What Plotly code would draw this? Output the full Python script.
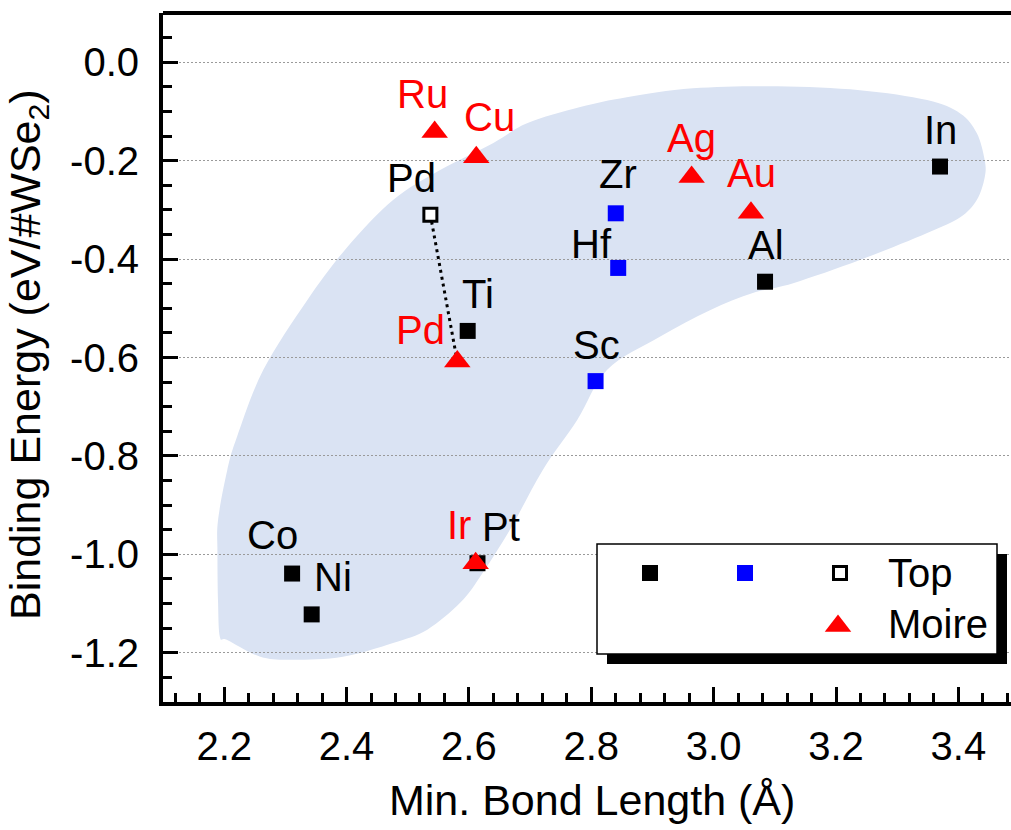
import plotly.graph_objects as go

# ---------------- data ----------------
black_names = ["In", "Al", "Ti", "Co", "Ni", "Pt"]
black_x = [3.370, 3.084, 2.598, 2.311, 2.343, 2.614]
black_y = [-0.212, -0.446, -0.546, -1.039, -1.122, -1.018]

blue_names = ["Zr", "Hf", "Sc"]
blue_x = [2.840, 2.844, 2.807]
blue_y = [-0.307, -0.418, -0.648]

top_names = ["Pd"]
top_x = [2.537]
top_y = [-0.310]

moire_names = ["Ru", "Cu", "Ag", "Au", "Pd", "Ir"]
moire_x = [2.544, 2.612, 2.964, 3.061, 2.581, 2.611]
moire_y = [-0.142, -0.193, -0.233, -0.306, -0.608, -1.018]

x_tick_vals = [2.2, 2.4, 2.6, 2.8, 3.0, 3.2, 3.4]
x_tick_text = ["2.2", "2.4", "2.6", "2.8", "3.0", "3.2", "3.4"]
y_tick_vals = [0.0, -0.2, -0.4, -0.6, -0.8, -1.0, -1.2]
y_tick_text = ["0.0", "-0.2", "-0.4", "-0.6", "-0.8", "-1.0", "-1.2"]

# outline of the shaded guide region (data coordinates)
region_x = [2.193, 2.190, 2.189, 2.190, 2.205, 2.221, 2.264, 2.336, 2.401, 2.476,
            2.553, 2.640, 2.695, 2.782, 2.858, 2.966, 3.104, 3.239, 3.349, 3.403,
            3.430, 3.443, 3.443, 3.430, 3.403, 3.349, 3.239, 3.130, 3.064, 2.994,
            2.912, 2.826, 2.777, 2.721, 2.667, 2.618, 2.586, 2.532, 2.476, 2.394,
            2.313, 2.259, 2.205]
region_y = [-1.168, -1.098, -0.997, -0.930, -0.829, -0.761, -0.625, -0.483, -0.376, -0.280,
            -0.219, -0.164, -0.124, -0.091, -0.071, -0.053, -0.049, -0.057, -0.077, -0.104,
            -0.144, -0.199, -0.234, -0.280, -0.315, -0.347, -0.402, -0.449, -0.469, -0.504,
            -0.558, -0.625, -0.727, -0.828, -0.950, -1.046, -1.098, -1.153, -1.180, -1.208,
            -1.214, -1.208, -1.174]

# ---------------- layout geometry / styles ----------------
W, H = 1011, 830
ML, MR, MT, MB = 163, 0, 13, 128
XR = [2.1, 3.486]
YR = [-1.3, 0.1]
FONT = "Liberation Sans, Arial, sans-serif"
RED = "#ff0000"
BLUE = "#0000ff"
FILL = "#dae3f3"
FS = 40
FS_TITLE = 43
TRI = 23


def px2x(px):
    return XR[0] + (px - ML) / (W - ML - MR) * (XR[1] - XR[0])


def py2y(py):
    return YR[1] - (py - MT) / (H - MT - MB) * (YR[1] - YR[0])


def smooth_closed_path(xs, ys):
    pts = list(zip(xs, ys))
    n = len(pts)
    s = "M%.4f,%.4f" % pts[0]
    for i in range(n):
        p0, p1, p2, p3 = pts[(i - 1) % n], pts[i], pts[(i + 1) % n], pts[(i + 2) % n]
        c1 = (p1[0] + (p2[0] - p0[0]) / 6, p1[1] + (p2[1] - p0[1]) / 6)
        c2 = (p2[0] - (p3[0] - p1[0]) / 6, p2[1] - (p3[1] - p1[1]) / 6)
        s += " C%.4f,%.4f %.4f,%.4f %.4f,%.4f" % (c1[0], c1[1], c2[0], c2[1], p2[0], p2[1])
    return s + " Z"


# label offsets in pixels (dx right, dy down)
label_offsets = {
    "black": {"In": (0, -37), "Al": (1, -37), "Ti": (10, -37), "Co": (-20, -39),
              "Ni": (21, -37), "Pt": (24, -36)},
    "blue": {"Zr": (2, -39), "Hf": (-27, -24), "Sc": (1, -36)},
    "top": {"Pd": (-19, -37)},
    "moire": {"Ru": (-12, -38), "Cu": (13, -40), "Ag": (0, -39), "Au": (1, -40),
              "Pd": (-37, -31), "Ir": (-17, -38)},
}

fig = go.Figure()

# dotted connector between the two Pd configurations
fig.add_trace(go.Scatter(
    x=[top_x[0], moire_x[moire_names.index("Pd")]],
    y=[top_y[0], moire_y[moire_names.index("Pd")]],
    mode="lines", line=dict(color="black", width=3, dash="3px,4px"),
    hoverinfo="skip"))

fig.add_trace(go.Scatter(x=black_x, y=black_y, mode="markers",
                         marker=dict(symbol="square", size=16, color="black")))
fig.add_trace(go.Scatter(x=blue_x, y=blue_y, mode="markers",
                         marker=dict(symbol="square", size=16, color=BLUE)))
fig.add_trace(go.Scatter(x=top_x, y=top_y, mode="markers",
                         marker=dict(symbol="square", size=13, color="white",
                                     line=dict(color="black", width=3))))
fig.add_trace(go.Scatter(x=moire_x, y=moire_y, mode="markers",
                         marker=dict(symbol="triangle-up", size=TRI, color=RED)))

annotations = []


def add_labels(names, xs, ys, key, color):
    for n, x, y in zip(names, xs, ys):
        dx, dy = label_offsets[key][n]
        annotations.append(dict(x=x, y=y, xref="x", yref="y", text=n, showarrow=False,
                                xshift=dx, yshift=-dy, xanchor="center", yanchor="middle",
                                font=dict(family=FONT, size=FS, color=color)))


add_labels(black_names, black_x, black_y, "black", "black")
add_labels(blue_names, blue_x, blue_y, "blue", "black")
add_labels(top_names, top_x, top_y, "top", "black")
add_labels(moire_names, moire_x, moire_y, "moire", RED)

# ---------------- custom legend (Origin style) ----------------
lg_box = (597, 544, 997, 654)  # px: left, top, right, bottom
lg_shadow = 10
shapes = [
    dict(type="path", path=smooth_closed_path(region_x, region_y), xref="x", yref="y",
         fillcolor=FILL, line=dict(width=0), layer="below"),
    dict(type="rect", xref="x", yref="y",
         x0=px2x(lg_box[0] + lg_shadow), x1=px2x(lg_box[2] + lg_shadow),
         y0=py2y(lg_box[1] + lg_shadow), y1=py2y(lg_box[3] + lg_shadow),
         fillcolor="black", line=dict(width=0), layer="between"),
    dict(type="rect", xref="x", yref="y",
         x0=px2x(lg_box[0]), x1=px2x(lg_box[2]), y0=py2y(lg_box[1]), y1=py2y(lg_box[3]),
         fillcolor="white", line=dict(color="black", width=1.5), layer="between"),
    dict(type="line", xref="paper", yref="paper", x0=0, x1=1, y0=1, y1=1,
         line=dict(color="black", width=4), layer="above"),
]

row1, row2 = 573, 626
fig.add_trace(go.Scatter(x=[px2x(650)], y=[py2y(row1)], mode="markers", hoverinfo="skip",
                         marker=dict(symbol="square", size=16, color="black")))
fig.add_trace(go.Scatter(x=[px2x(745)], y=[py2y(row1)], mode="markers", hoverinfo="skip",
                         marker=dict(symbol="square", size=16, color=BLUE)))
fig.add_trace(go.Scatter(x=[px2x(840)], y=[py2y(row1)], mode="markers", hoverinfo="skip",
                         marker=dict(symbol="square", size=13, color="white",
                                     line=dict(color="black", width=3))))
fig.add_trace(go.Scatter(x=[px2x(838)], y=[py2y(row2)], mode="markers", hoverinfo="skip",
                         marker=dict(symbol="triangle-up", size=TRI, color=RED)))
annotations.append(dict(x=px2x(886), y=py2y(573), xref="x", yref="y", text="Top",
                        showarrow=False, xanchor="left", yanchor="middle",
                        font=dict(family=FONT, size=FS, color="black")))
annotations.append(dict(x=px2x(886), y=py2y(624), xref="x", yref="y", text="Moire",
                        showarrow=False, xanchor="left", yanchor="middle",
                        font=dict(family=FONT, size=FS, color="black")))

# axis titles
annotations.append(dict(x=(592 - ML) / (W - ML - MR), y=-(800 - (H - MB)) / (H - MT - MB),
                        xref="paper", yref="paper", text="Min. Bond Length (Å)",
                        showarrow=False, xanchor="center", yanchor="middle",
                        font=dict(family=FONT, size=FS_TITLE, color="black")))
annotations.append(dict(x=(28 - ML) / (W - ML - MR), y=(H - MB - 355) / (H - MT - MB),
                        xref="paper", yref="paper", text="Binding Energy (eV/#WSe<sub>2</sub>)",
                        textangle=-90, showarrow=False, xanchor="center", yanchor="middle",
                        font=dict(family=FONT, size=FS_TITLE, color="black")))

fig.update_layout(
    width=W, height=H,
    margin=dict(l=ML, r=MR, t=MT, b=MB, pad=0),
    paper_bgcolor="white", plot_bgcolor="white",
    showlegend=False,
    font=dict(family=FONT, size=FS, color="black"),
    shapes=shapes, annotations=annotations,
    xaxis=dict(range=XR, showline=True, linewidth=4, linecolor="black", mirror=False,
               ticks="inside", ticklen=15, tickwidth=3, tickcolor="black",
               tickmode="array", tickvals=x_tick_vals, ticktext=x_tick_text,
               tickfont=dict(family=FONT, size=FS), ticklabelstandoff=6,
               showgrid=False, zeroline=False,
               minor=dict(ticks="inside", ticklen=9, tickwidth=3, tickcolor="black",
                          tickmode="linear", tick0=2.2, dtick=0.04, showgrid=False)),
    yaxis=dict(range=YR, showline=True, linewidth=4, linecolor="black", mirror=False,
               ticks="inside", ticklen=15, tickwidth=3, tickcolor="black",
               tickmode="array", tickvals=y_tick_vals, ticktext=y_tick_text,
               tickfont=dict(family=FONT, size=FS), ticklabelstandoff=12,
               showgrid=True, gridcolor="#9a9a9a", gridwidth=1, griddash="2px,2px",
               zeroline=False,
               minor=dict(ticks="inside", ticklen=9, tickwidth=3, tickcolor="black",
                          tickmode="linear", tick0=0, dtick=0.05, showgrid=False)),
)

fig.write_html("out.html")
